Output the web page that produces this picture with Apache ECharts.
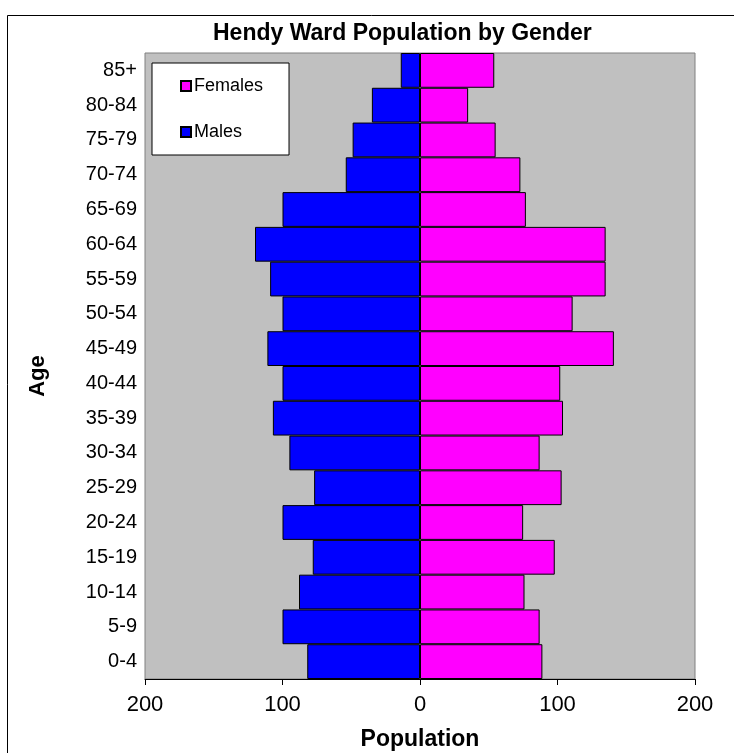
<!DOCTYPE html>
<html>
<head>
<meta charset="utf-8">
<script src="https://cdn.jsdelivr.net/npm/echarts@6/dist/echarts.min.js"></script>
<style>
  html, body { margin: 0; padding: 0; background: #fff; }
  #main { width: 734px; height: 753px; }
</style>
</head>
<body>
<div id="main"></div>
<script>
// age bands, bottom to top
const ageBands = ['0-4', '5-9', '10-14', '15-19', '20-24', '25-29', '30-34', '35-39', '40-44',
    '45-49', '50-54', '55-59', '60-64', '65-69', '70-74', '75-79', '80-84', '85+']

const males = [82, 100, 88, 78, 100, 77, 95, 107, 100, 111, 100, 109, 120, 100, 54, 49, 35, 14]
const females = [89, 87, 76, 98, 75, 103, 87, 104, 102, 141, 111, 135, 135, 77, 73, 55, 35, 54]

const popTicks = [-200, -100, 0, 100, 200]

const FONT = '"Liberation Sans", Arial, sans-serif'

window.addEventListener('load', () => {
    const chart = echarts.init(document.getElementById('main'), null, { renderer: 'canvas' })

    const option = {
        animation: false,
        backgroundColor: '#fff',
        textStyle: { fontFamily: FONT, color: '#000' },
        title: {
            text: 'Hendy Ward Population by Gender',
            left: 213,
            top: 22,
            padding: 0,
            textStyle: { fontFamily: FONT, fontSize: 23, fontWeight: 'bold', color: '#000' }
        },
        graphic: [{
            type: 'rect',
            shape: { x: 7.5, y: 15.5, width: 900, height: 900 },
            style: { fill: 'none', stroke: '#000', lineWidth: 1 },
            silent: true
        }],
        legend: {
            data: ['Females', 'Males'],
            orient: 'vertical',
            left: 152,
            top: 63,
            padding: [14, 26, 14, 28],
            itemGap: 28,
            itemWidth: 10,
            itemHeight: 10,
            icon: 'rect',
            backgroundColor: '#fff',
            borderColor: '#000',
            borderWidth: 1,
            textStyle: { fontFamily: FONT, fontSize: 18, color: '#000', padding: [0, 0, 0, -2] }
        },
        grid: {
            left: 145,
            right: 39,
            top: 53,
            bottom: 74,
            outerBoundsMode: 'none',
            show: true,
            backgroundColor: '#c0c0c0',
            borderColor: '#808080',
            borderWidth: 1
        },
        xAxis: {
            type: 'value',
            min: popTicks[0],
            max: popTicks[popTicks.length - 1],
            interval: 100,
            name: 'Population',
            nameLocation: 'middle',
            nameGap: 49,
            nameTextStyle: { fontFamily: FONT, fontSize: 23, fontWeight: 'bold', color: '#000' },
            axisLine: { show: true, onZero: false, lineStyle: { color: '#000', width: 1 } },
            axisTick: { show: true, length: 6, lineStyle: { color: '#000' } },
            axisLabel: {
                fontFamily: FONT, fontSize: 22, color: '#000', margin: 15,
                formatter: v => Math.abs(v)
            },
            splitLine: { show: false }
        },
        yAxis: {
            type: 'category',
            data: ageBands,
            name: 'Age',
            nameLocation: 'middle',
            nameGap: 96,
            nameRotate: 90,
            nameTextStyle: {
                fontFamily: FONT, fontSize: 22, fontWeight: 'bold', color: '#000',
                padding: [0, 20, 0, 0]
            },
            axisLine: { show: false, onZero: false },
            axisTick: { show: false },
            axisLabel: { fontFamily: FONT, fontSize: 20, color: '#000', margin: 8 }
        },
        series: [
            {
                name: 'Males',
                type: 'bar',
                stack: 'pop',
                barCategoryGap: 0,
                data: males.map(v => -v),
                itemStyle: { color: '#0000ff', borderColor: '#000', borderWidth: 1 }
            },
            {
                name: 'Females',
                type: 'bar',
                stack: 'pop',
                barCategoryGap: 0,
                data: females,
                itemStyle: { color: '#ff00ff', borderColor: '#000', borderWidth: 1 }
            }
        ]
    }
    chart.setOption(option)
})
</script>
</body>
</html>
